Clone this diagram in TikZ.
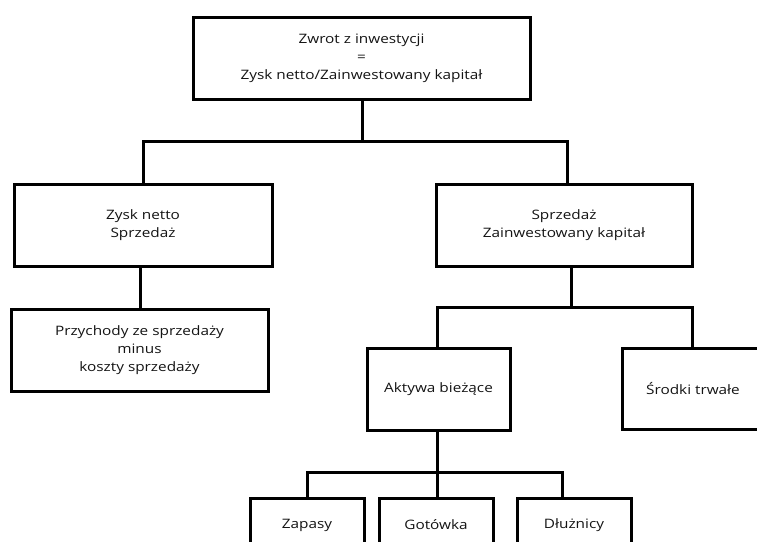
\documentclass[tikz,border=0pt]{standalone}
\usepackage{fontspec}
\setmainfont{Open Sans}[FakeStretch=1.18]
\begin{document}
\begin{tikzpicture}[x=1pt,y=-1pt,
  box/.style={draw=black, line width=3pt, fill=white, align=center,
    inner sep=0pt, text=black!92,
    font=\fontsize{13}{18}\selectfont},
  link/.style={draw=black, line width=3pt}]
  \useasboundingbox (0,0) rectangle (757,541);
  \begin{scope}
    \clip (0,0) rectangle (757,541);
    % junction points of the tree links
    \coordinate (j1) at (362,141);
    \coordinate (j2) at (571,307);
    \coordinate (j3) at (437,472);
    % boxes
    \node[box, minimum width=337pt, minimum height=82pt] (roi) at (361.5,58)
      {Zwrot z inwestycji\\=\\Zysk netto/Zainwestowany kapitał};
    \node[box, minimum width=258pt, minimum height=82pt] (zysk) at (143,225)
      {Zysk netto\\Sprzedaż};
    \node[box, minimum width=257pt, minimum height=82pt] (przych) at (139.5,350)
      {Przychody ze sprzedaży\\minus\\koszty sprzedaży};
    \node[box, minimum width=256pt, minimum height=82pt] (sprz) at (564,225)
      {Sprzedaż\\Zainwestowany kapitał};
    \node[box, minimum width=143pt, minimum height=82pt] (aktywa) at (438.5,389)
      {Aktywa bieżące};
    \node[box, minimum width=142pt, minimum height=81pt] (srodki) at (693,389)
      {Środki trwałe};
    \node[box, minimum width=114pt, minimum height=54pt] (zapasy) at (307,525)
      {Zapasy};
    \node[box, minimum width=114pt, minimum height=54pt] (gotowka) at (436,525)
      {Gotówka};
    \node[box, minimum width=114pt, minimum height=54pt] (dluznicy) at (574,525)
      {Dłużnicy};
    % tree links
    \draw[link] (roi.south -| j1) -- (j1);
    \draw[link] (zysk.north) |- (j1) -| ([xshift=3pt]sprz.north);
    \draw[link] ([xshift=-3pt]zysk.south) -- ([xshift=0.5pt]przych.north);
    \draw[link] (sprz.south -| j2) -- (j2);
    \draw[link] ([xshift=-1.5pt]aktywa.north) |- (j2) -| ([xshift=-1pt]srodki.north);
    \draw[link] (aktywa.south -| j3) -- (j3);
    \draw[link] (zapasy.north) |- (j3) -| ([xshift=-12pt]dluznicy.north);
    \draw[link] (gotowka.north -| j3) -- (j3);
  \end{scope}
\end{tikzpicture}
\end{document}
